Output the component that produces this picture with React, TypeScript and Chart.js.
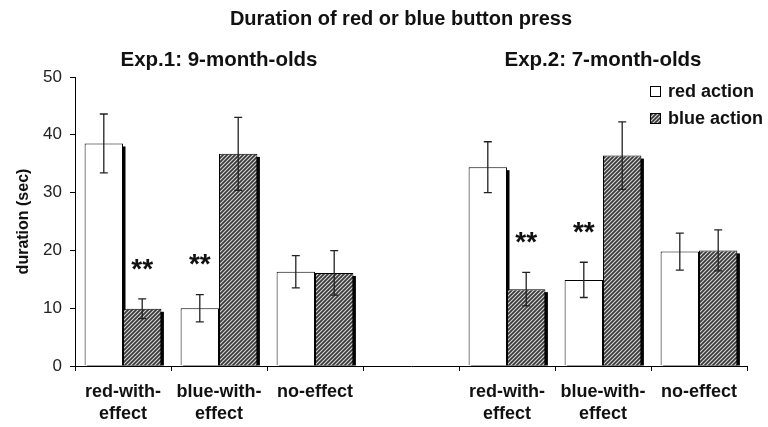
import React, { useEffect, useRef } from "react";
import { Chart, registerables } from "chart.js";

Chart.register(...registerables);

const categories: (string | string[])[] = [
  ["red-with-", "effect"],
  ["blue-with-", "effect"],
  ["no-effect"],
  "",
  ["red-with-", "effect"],
  ["blue-with-", "effect"],
  ["no-effect"],
];

const seriesNames = ["red action", "blue action"];
const redValues = [38.5, 10.0, 16.3, null, 34.4, 14.9, 19.8];
const redErrors = [5.1, 2.35, 2.8, null, 4.4, 3.05, 3.2];
const blueValues = [9.9, 36.7, 16.1, null, 13.3, 36.4, 20.0];
const blueErrors = [1.7, 6.3, 3.85, null, 2.9, 5.85, 3.55];

const yTicks = [0, 10, 20, 30, 40, 50];

const chartTitle = "Duration of red or blue button press";
const groupTitles = ["Exp.1: 9-month-olds", "Exp.2: 7-month-olds"];
const groupCenterCategory = [1, 5];

const sigCategory = [0, 1, 4, 5];
const sigDataset = [1, 0, 1, 0];
const sigValue = [17.6, 18.5, 22.2, 24.0];
const sigLabel = "**";

const FONT = "'Liberation Sans', Arial, Helvetica, sans-serif";

function makeHatch(): CanvasPattern | string {
  const c = document.createElement("canvas");
  const s = 4;
  c.width = s;
  c.height = s;
  const g = c.getContext("2d");
  if (!g) return "#555";
  g.fillStyle = "#3a3a3a";
  g.fillRect(0, 0, s, s);
  g.strokeStyle = "#d8d8d8";
  g.lineWidth = 1.1;
  g.beginPath();
  g.moveTo(0, s);
  g.lineTo(s, 0);
  g.moveTo(-1, 1);
  g.lineTo(1, -1);
  g.moveTo(s - 1, s + 1);
  g.lineTo(s + 1, s - 1);
  g.stroke();
  const p = g.createPattern(c, "repeat");
  return p || "#555";
}

export default function App() {
  const ref = useRef<HTMLCanvasElement | null>(null);

  useEffect(() => {
    if (!ref.current) return;
    const hatch = makeHatch();
    const errors = [redErrors, blueErrors];

    const shadowPlugin = {
      id: "shadows",
      beforeDatasetsDraw(chart: any) {
        const ctx = chart.ctx;
        const area = chart.chartArea;
        ctx.save();
        ctx.beginPath();
        ctx.rect(area.left, area.top - 50, area.right - area.left + 10, area.bottom - area.top + 50);
        ctx.clip();
        ctx.fillStyle = "#000";
        chart.data.datasets.forEach((_: any, i: number) => {
          const meta = chart.getDatasetMeta(i);
          meta.data.forEach((bar: any, j: number) => {
            const v = chart.data.datasets[i].data[j];
            if (v === null || v === undefined) return;
            const { x, y, base, width } = bar.getProps(["x", "y", "base", "width"], true);
            ctx.fillRect(x - width / 2 + 2.5, y + 3, width, base - y - 3);
          });
        });
        ctx.restore();
      },
    };

    const overlayPlugin = {
      id: "overlay",
      afterDatasetsDraw(chart: any) {
        const ctx = chart.ctx;
        const yScale = chart.scales.y;
        const xScale = chart.scales.x;
        ctx.save();
        // error bars
        ctx.strokeStyle = "#222";
        ctx.lineWidth = 1.3;
        chart.data.datasets.forEach((ds: any, i: number) => {
          const meta = chart.getDatasetMeta(i);
          meta.data.forEach((bar: any, j: number) => {
            const v = ds.data[j];
            const e = errors[i][j];
            if (v === null || e === null) return;
            const x = bar.x;
            const t = yScale.getPixelForValue(v + e);
            const b = yScale.getPixelForValue(v - e);
            ctx.beginPath();
            ctx.moveTo(x, t);
            ctx.lineTo(x, b);
            ctx.moveTo(x - 4, t);
            ctx.lineTo(x + 4, t);
            ctx.moveTo(x - 4, b);
            ctx.lineTo(x + 4, b);
            ctx.stroke();
          });
        });
        // significance stars
        ctx.fillStyle = "#111";
        ctx.font = `bold 28px ${FONT}`;
        ctx.textAlign = "center";
        ctx.textBaseline = "alphabetic";
        sigCategory.forEach((c, k) => {
          const bar = chart.getDatasetMeta(sigDataset[k]).data[c];
          const cy = yScale.getPixelForValue(sigValue[k]);
          const m = ctx.measureText(sigLabel);
          const asc = m.actualBoundingBoxAscent;
          const desc = m.actualBoundingBoxDescent;
          ctx.fillText(sigLabel, bar.x, cy + (asc - desc) / 2);
        });
        // titles
        ctx.fillStyle = "#111";
        ctx.textBaseline = "middle";
        ctx.font = `bold 20px ${FONT}`;
        ctx.fillText(chartTitle, 401, 19);
        ctx.font = `bold 20.5px ${FONT}`;
        groupTitles.forEach((t, k) => {
          ctx.fillText(t, xScale.getPixelForValue(groupCenterCategory[k]), 60);
        });
        // legend
        ctx.font = `bold 18px ${FONT}`;
        ctx.textAlign = "left";
        chart.data.datasets.forEach((ds: any, i: number) => {
          const cy = 91 + i * 27;
          const bx = 650;
          const bs = 10;
          ctx.fillStyle = ds.backgroundColor;
          ctx.fillRect(bx, cy - bs / 2, bs, bs);
          ctx.strokeStyle = "#000";
          ctx.lineWidth = 1;
          ctx.strokeRect(bx + 0.5, cy - bs / 2 + 0.5, bs, bs);
          ctx.fillStyle = "#111";
          ctx.fillText(ds.label, 668, cy + 1);
        });
        ctx.restore();
      },
    };

    const chart = new Chart(ref.current, {
      type: "bar",
      data: {
        labels: categories,
        datasets: [
          {
            label: seriesNames[0],
            data: redValues,
            backgroundColor: "#ffffff",
            borderColor: "#000",
            borderWidth: 1,
            categoryPercentage: 0.8,
            barPercentage: 1.0,
          },
          {
            label: seriesNames[1],
            data: blueValues,
            backgroundColor: hatch as any,
            borderColor: "#000",
            borderWidth: 1,
            categoryPercentage: 0.8,
            barPercentage: 1.0,
          },
        ],
      },
      options: {
        animation: false,
        responsive: true,
        maintainAspectRatio: false,
        layout: { padding: { top: 77, right: 21, left: 0, bottom: 0 } },
        plugins: {
          legend: { display: false },
          title: { display: false },
          tooltip: { enabled: false },
        },
        scales: {
          x: {
            grid: {
              display: true,
              drawOnChartArea: false,
              offset: true,
              tickLength: 5,
              color: "#000",
            },
            border: { color: "#000", width: 1 },
            ticks: {
              color: "#111",
              font: { family: FONT, size: 18, weight: "bold", lineHeight: 1.22 },
              padding: 10,
              maxRotation: 0,
              autoSkip: false,
            },
            afterFit(scale: any) {
              scale.height = 61;
            },
          },
          y: {
            min: 0,
            max: 50,
            afterBuildTicks(scale: any) {
              scale.ticks = yTicks.map((v) => ({ value: v }));
            },
            grid: {
              display: true,
              drawOnChartArea: false,
              tickLength: 5,
              color: "#000",
            },
            border: { color: "#000", width: 1 },
            ticks: {
              color: "#222",
              font: { family: FONT, size: 17 },
              padding: 8,
            },
            title: {
              display: true,
              text: "duration (sec)",
              color: "#111",
              font: { family: FONT, size: 16, weight: "bold" },
              padding: { top: 14, bottom: 0 },
            },
            afterFit(scale: any) {
              scale.width = 75;
            },
          },
        },
      },
      plugins: [shadowPlugin, overlayPlugin],
    });

    return () => chart.destroy();
  }, []);

  return (
    <div style={{ position: "fixed", left: 0, top: 0, width: 768, height: 427, background: "#fff" }}>
      <canvas ref={ref} />
    </div>
  );
}
